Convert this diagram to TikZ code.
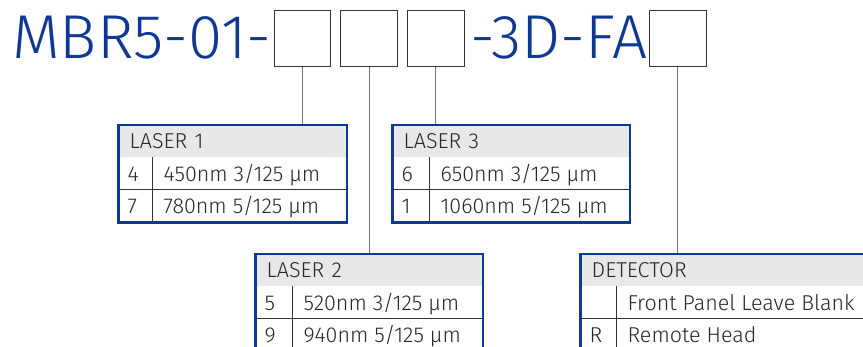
\documentclass[tikz,border=0pt]{standalone}
\usepackage{fontspec}
\setmainfont{Fira Sans}[UprightFont=* Light]
\usetikzlibrary{positioning, fit}
\definecolor{mbblue}{RGB}{14,56,148}
\definecolor{headgray}{RGB}{232,232,232}

\begin{document}
\begin{tikzpicture}[x=1pt, y=-1pt,
    font=\fontsize{21.5}{24}\selectfont,
    partno/.style={font=\fontsize{62}{62}\selectfont, text=mbblue, inner sep=0pt, anchor=base west},
    slot/.style={draw=black!80, line width=0.9pt, minimum size=56.5pt, inner sep=0pt},
    lead/.style={draw=black!55, line width=1pt},
    cell/.style={text=black!85, minimum height=32pt, text height=15pt, text depth=0pt, inner ysep=0pt},
    head/.style={cell, fill=headgray, text width=#1, inner xsep=11pt, align=left},
    code/.style={cell, text width=#1, inner xsep=9pt, align=left},
    desc/.style={cell, inner xsep=11pt},
    frame/.style={draw=mbblue, line width=2.8pt, inner sep=0pt},
    rule/.style={draw=black!80, line width=0.8pt},
  ]

    \clip (0,0) rectangle (863,346);

    % part number
    \node[partno] (pre) at (12,58) {MBR5-01-};
    \node[slot] (s1) at (302.5,38.5) {};
    \node[slot] (s2) at (369,38.5) {};
    \node[slot] (s3) at (435.7,38.5) {};
    \node[partno] (mid) at (470,58) {-3D-FA};
    \node[slot] (s4) at (677.8,38.5) {};

    % laser 1
    \node[head=206pt, anchor=north west] (l1h) at (118.5,125) {LASER 1};
    \node[code=15.5pt, below right=0pt and 0pt of l1h.south west] (l1a) {4};
    \node[desc, right=0pt of l1a] (l1at) {450nm 3/125 µm};
    \node[code=15.5pt, below=0pt of l1a] (l1b) {7};
    \node[desc, right=0pt of l1b] (l1bt) {780nm 5/125 µm};
    \draw[rule] (l1a.north east) -- (l1b.south east);
    \draw[rule] (l1b.north west) -- (l1b.north west -| l1h.east);
    \node[frame, fit=(l1h)(l1b)] (l1f) {};

    % laser 3
    \node[head=215pt, anchor=north west] (l3h) at (392.5,125) {LASER 3};
    \node[code=18.5pt, below right=0pt and 0pt of l3h.south west] (l3a) {6};
    \node[desc, right=0pt of l3a] (l3at) {650nm 3/125 µm};
    \node[code=18.5pt, below=0pt of l3a] (l3b) {1};
    \node[desc, right=0pt of l3b] (l3bt) {1060nm 5/125 µm};
    \draw[rule] (l3a.north east) -- (l3b.south east);
    \draw[rule] (l3b.north west) -- (l3b.north west -| l3h.east);
    \node[frame, fit=(l3h)(l3b)] (l3f) {};

    % laser 2
    \node[head=205pt, anchor=north west] (l2h) at (255.5,254) {LASER 2};
    \node[code=18.5pt, below right=0pt and 0pt of l2h.south west] (l2a) {5};
    \node[desc, right=0pt of l2a] (l2at) {520nm 3/125 µm};
    \node[code=18.5pt, below=0pt of l2a] (l2b) {9};
    \node[desc, right=0pt of l2b] (l2bt) {940nm 5/125 µm};
    \draw[rule] (l2a.north east) -- (l2b.south east);
    \draw[rule] (l2b.north west) -- (l2b.north west -| l2h.east);
    \node[frame, fit=(l2h)(l2b)] (l2f) {};

    % detector
    \node[head=277.5pt, anchor=north west] (dh) at (580.5,254) {DETECTOR};
    \node[code=17.5pt, below right=0pt and 0pt of dh.south west] (da) {};
    \node[desc, right=0pt of da] (dat) {Front Panel Leave Blank};
    \node[code=17.5pt, below=0pt of da] (db) {R};
    \node[desc, right=0pt of db] (dbt) {Remote Head};
    \draw[rule] (da.north east) -- (db.south east);
    \draw[rule] (db.north west) -- (db.north west -| dh.east);
    \node[frame, fit=(dh)(db)] (df) {};

    % leads
    \draw[lead] (s1.south) -- (s1.south |- l1f.north);
    \draw[lead] (s2.south) -- (s2.south |- l2f.north);
    \draw[lead] (s3.south) -- (s3.south |- l3f.north);
    \draw[lead] (s4.south) -- (s4.south |- df.north);

  \end{tikzpicture}
\end{document}
